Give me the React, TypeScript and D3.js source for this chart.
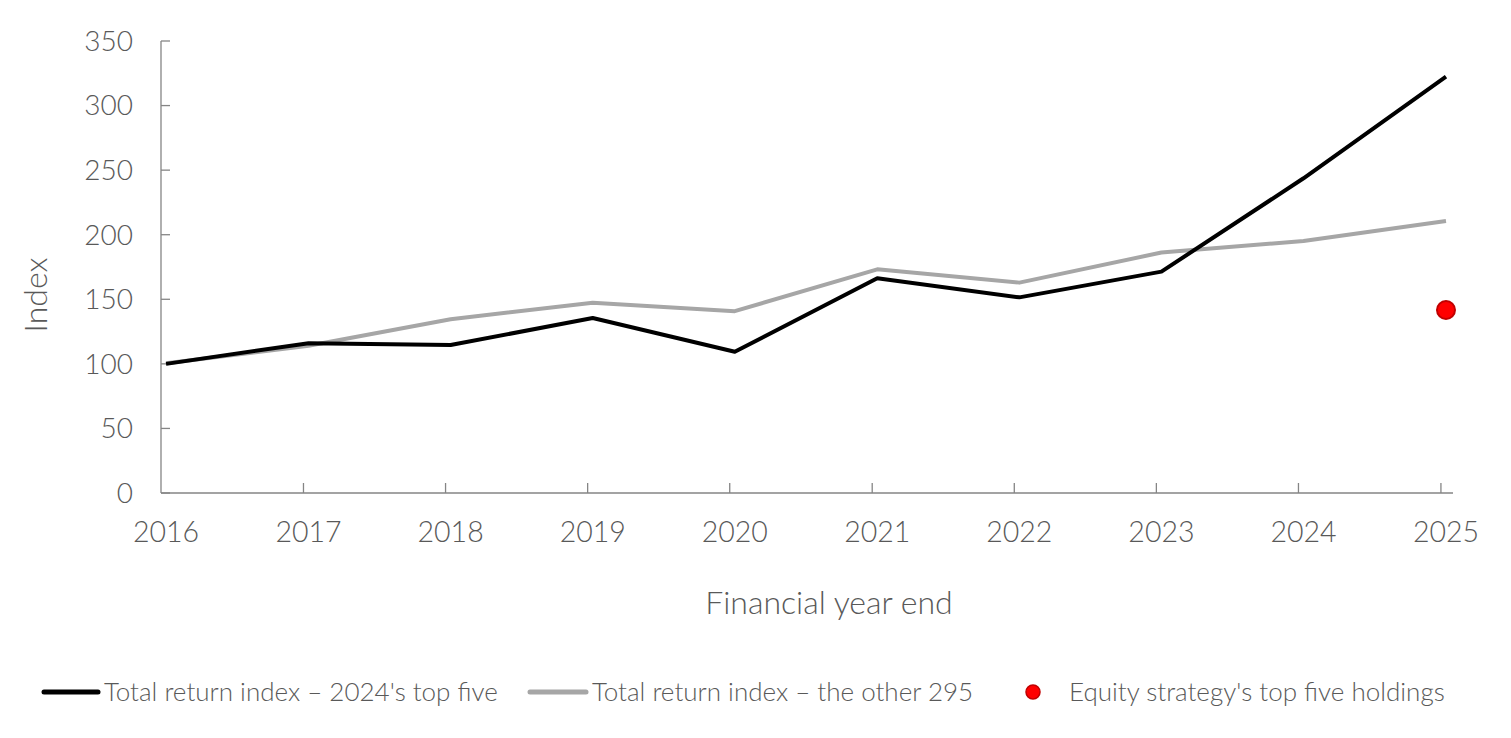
import * as d3 from "d3"

// chart data
const years = [2016, 2017, 2018, 2019, 2020, 2021, 2022, 2023, 2024, 2025]
const topFiveIndex = [100, 116, 114.6, 135.5, 109.4, 166.3, 151.5, 171.4, 243.7, 322.4]
const otherIndex = [100.4, 114, 134.5, 147.4, 140.8, 173.2, 162.9, 186.2, 195.1, 210.6]
const strategyYear = 2025
const strategyValue = 141.7
const yTicks = [0, 50, 100, 150, 200, 250, 300, 350]
const legendLabels = [
  "Total return index \u2013 2024's top five",
  "Total return index \u2013 the other 295",
  "Equity strategy's top five holdings",
]

const W = 1511
const H = 738
const FONT = "Lato, 'Open Sans', sans-serif"
const TEXT = "#595959"
const AXIS = "#858585"

// financial year end falls a couple of weeks into each calendar year
const fyEnd = (y: number) => new Date(y, 0, 14)

export default function App() {
  const margin = { top: 41, right: 58, bottom: 245, left: 161 }
  const x = d3
    .scaleTime()
    .domain([new Date(2016, 0, 1), new Date(2025, 1, 1)])
    .range([margin.left, W - margin.right])
  const y = d3.scaleLinear().domain([0, 350]).range([H - margin.bottom, margin.top])

  const line = d3
    .line<number>()
    .x((_, i) => x(fyEnd(years[i])))
    .y((d) => y(d))

  const y0 = y(0)
  const legendY = 692

  return (
    <svg
      width={W}
      height={H}
      style={{ position: "absolute", left: 0, top: 0, background: "#fff" }}
      fontFamily={FONT}
    >
      {/* y axis */}
      <line x1={x.range()[0]} x2={x.range()[0]} y1={y(350)} y2={y0} stroke={AXIS} strokeWidth={1.3} />
      {yTicks.map((t) => (
        <g key={t}>
          <line x1={x.range()[0]} x2={x.range()[0] + 9} y1={y(t)} y2={y(t)} stroke={AXIS} strokeWidth={1.3} />
          <text
            x={x.range()[0] - 28}
            y={y(t)}
            dy="0.35em"
            textAnchor="end"
            fontSize={28}
            fontWeight={300}
            fill={TEXT}
          >
            {t}
          </text>
        </g>
      ))}

      {/* x axis */}
      <line x1={x.range()[0]} x2={x.range()[1]} y1={y0} y2={y0} stroke={AXIS} strokeWidth={1.3} />
      {years.map((yr) => (
        <g key={yr}>
          {yr > years[0] && (
            <line
              x1={x(new Date(yr, 0, 1))}
              x2={x(new Date(yr, 0, 1))}
              y1={y0}
              y2={y0 - 10}
              stroke={AXIS}
              strokeWidth={1.3}
            />
          )}
          <text x={x(fyEnd(yr))} y={542} textAnchor="middle" fontSize={28.5} fontWeight={300} fill={TEXT}>
            {yr}
          </text>
        </g>
      ))}

      {/* axis titles */}
      <text x={829} y={614} textAnchor="middle" fontSize={32} fontWeight={300} fill={TEXT}>
        Financial year end
      </text>
      <text
        transform={`translate(47, 295) rotate(-90)`}
        textAnchor="middle"
        fontSize={32}
        fontWeight={300}
        fill={TEXT}
      >
        Index
      </text>

      {/* series */}
      <path d={line(otherIndex) ?? ""} fill="none" stroke="#a6a6a6" strokeWidth={4} strokeLinejoin="round" />
      <path d={line(topFiveIndex) ?? ""} fill="none" stroke="#000" strokeWidth={4} strokeLinejoin="round" />
      <circle
        cx={x(fyEnd(strategyYear))}
        cy={y(strategyValue)}
        r={9}
        fill="#ff0000"
        stroke="#c00000"
        strokeWidth={2}
      />

      {/* legend */}
      <line x1={44} x2={98} y1={legendY} y2={legendY} stroke="#000" strokeWidth={5} strokeLinecap="round" />
      <text x={104} y={legendY} dy="0.35em" fontSize={26} fontWeight={300} fill={TEXT}>
        {legendLabels[0]}
      </text>
      <line x1={530} x2={586} y1={legendY} y2={legendY} stroke="#a6a6a6" strokeWidth={5} strokeLinecap="round" />
      <text x={592} y={legendY} dy="0.35em" fontSize={26} fontWeight={300} fill={TEXT}>
        {legendLabels[1]}
      </text>
      <circle cx={1033} cy={legendY} r={7} fill="#ff0000" stroke="#c00000" strokeWidth={1.5} />
      <text x={1069} y={legendY} dy="0.35em" fontSize={26} fontWeight={300} fill={TEXT}>
        {legendLabels[2]}
      </text>
    </svg>
  )
}
